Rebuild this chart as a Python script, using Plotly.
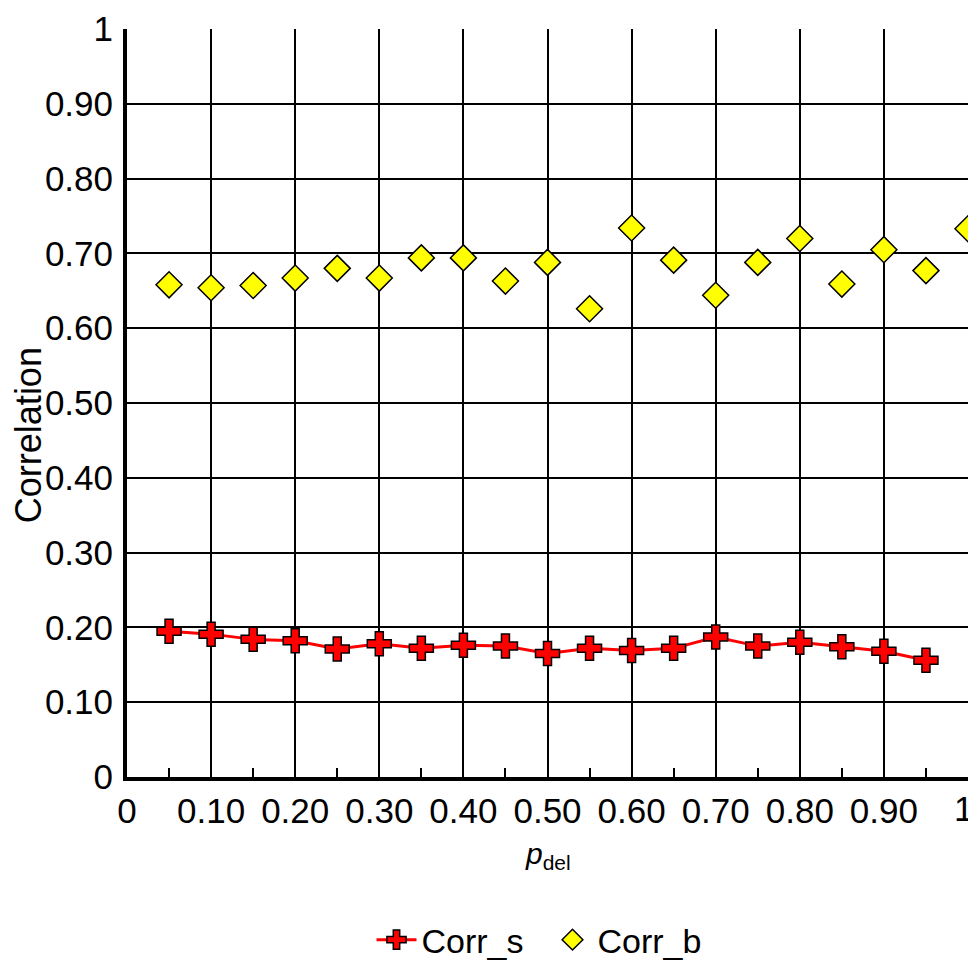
import plotly.graph_objects as go

p_del_b = [0.05, 0.10, 0.15, 0.20, 0.25, 0.30, 0.35, 0.40, 0.45, 0.50,
           0.55, 0.60, 0.65, 0.70, 0.75, 0.80, 0.85, 0.90, 0.95, 1.00]
corr_b = [0.658, 0.654, 0.657, 0.667, 0.680, 0.667, 0.694, 0.694, 0.663, 0.688,
          0.626, 0.734, 0.691, 0.644, 0.688, 0.720, 0.659, 0.705, 0.677, 0.733]
p_del_s = [0.05, 0.10, 0.15, 0.20, 0.25, 0.30, 0.35, 0.40, 0.45, 0.50,
           0.55, 0.60, 0.65, 0.70, 0.75, 0.80, 0.85, 0.90, 0.95]
corr_s = [0.195, 0.191, 0.184, 0.182, 0.171, 0.178, 0.172, 0.176, 0.175, 0.165,
          0.172, 0.169, 0.172, 0.187, 0.175, 0.180, 0.174, 0.168, 0.156]

tick_vals = [0, 0.1, 0.2, 0.3, 0.4, 0.5, 0.6, 0.7, 0.8, 0.9, 1.0]
tick_text = ["0", "0.10", "0.20", "0.30", "0.40", "0.50", "0.60", "0.70", "0.80", "0.90", "1"]
minor_vals = [0.05, 0.15, 0.25, 0.35, 0.45, 0.55, 0.65, 0.75, 0.85, 0.95]
x_title = "<i>p</i><sub>del</sub>"
y_title = "Correlation"

SANS = "Liberation Sans, Arial, sans-serif"

fig = go.Figure()
fig.add_trace(go.Scatter(
    x=p_del_s, y=corr_s, name="Corr_s", mode="lines+markers",
    line=dict(color="#ff0000", width=3),
    marker=dict(symbol="cross", size=20, color="#ff0000",
                line=dict(color="black", width=1.5)),
))
fig.add_trace(go.Scatter(
    x=p_del_b, y=corr_b, name="Corr_b", mode="markers",
    marker=dict(symbol="diamond", size=20, color="#ffff00",
                line=dict(color="black", width=1.5)),
))

fig.update_layout(
    width=968, height=954,
    margin=dict(l=119, r=8, t=21, b=185, autoexpand=False),
    paper_bgcolor="white", plot_bgcolor="white",
    font=dict(family=SANS, color="black", size=34),
    showlegend=True,
    legend=dict(orientation="h", x=0.5, xanchor="center", y=-0.218, yanchor="middle",
                font=dict(family=SANS, size=34), itemwidth=40,
                entrywidth=121),
)
# the last x label ("1") is drawn as an annotation so it stays inside the page
fig.update_xaxes(
    range=[0, 1], tickvals=tick_vals, ticktext=tick_text[:-1] + [""],
    showgrid=True, gridcolor="black", gridwidth=2,
    showline=True, linecolor="black", linewidth=4,
    ticks="", zeroline=False, automargin=False,
    tickfont=dict(family=SANS, size=35),
    minor=dict(tickvals=minor_vals, ticks="inside", ticklen=9,
               tickcolor="black", tickwidth=1.5, showgrid=False),
)
fig.update_yaxes(
    range=[0, 1], tickvals=tick_vals, ticktext=tick_text,
    showgrid=True, gridcolor="black", gridwidth=2,
    showline=True, linecolor="black", linewidth=4,
    ticks="", zeroline=False, automargin=False,
    ticklabeloverflow="allow",
    tickfont=dict(family=SANS, size=35),
    ticklabelstandoff=3,
)

fig.add_annotation(x=tick_vals[-1], y=0, xref="x", yref="paper", text=tick_text[-1],
                   showarrow=False, xanchor="right", yanchor="top", xshift=7, yshift=-10,
                   font=dict(family=SANS, size=35, color="black"))
fig.add_annotation(x=0.5, y=0, xref="paper", yref="paper", text=x_title,
                   showarrow=False, xanchor="center", yanchor="middle", yshift=-78,
                   font=dict(family=SANS, size=30, color="black"))
fig.add_annotation(x=0, y=0.457, xref="paper", yref="paper", text=y_title,
                   showarrow=False, textangle=-90, xanchor="center", yanchor="middle",
                   xshift=-99,
                   font=dict(family=SANS, size=36, color="black"))

fig.write_html("out.html")
